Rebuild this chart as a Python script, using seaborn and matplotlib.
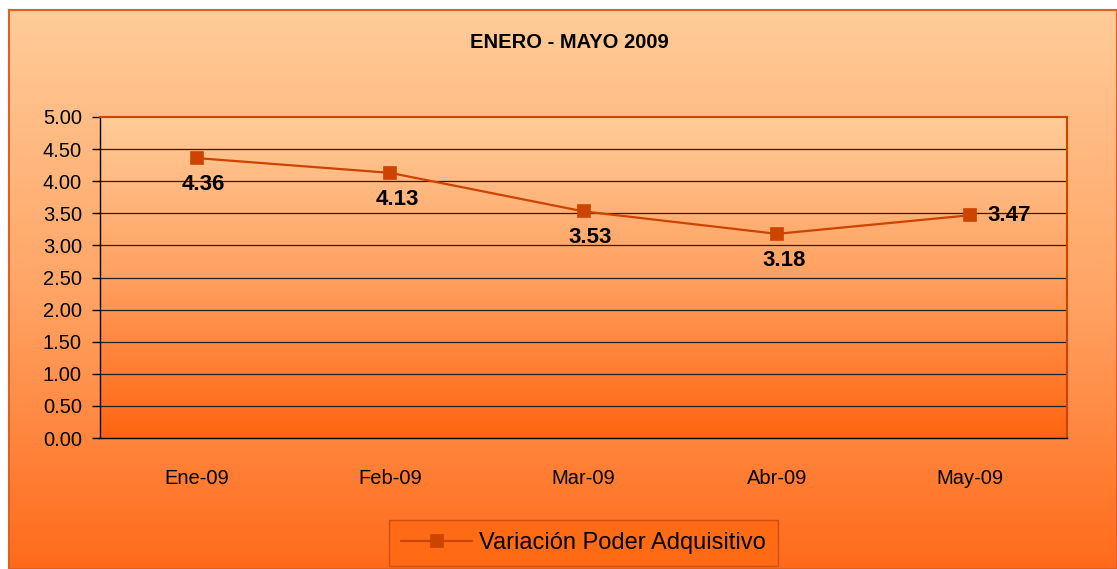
import numpy as np
import pandas as pd
import seaborn as sns
import matplotlib
matplotlib.use("Agg")
import matplotlib.pyplot as plt
from matplotlib.colors import LinearSegmentedColormap

meses = ["Ene-09", "Feb-09", "Mar-09", "Abr-09", "May-09"]
valores = [4.36, 4.13, 3.53, 3.18, 3.47]
serie = "Variación Poder Adquisitivo"
titulo = "ENERO - MAYO 2009"

sns.set_theme(style="white")
plt.rcParams["font.family"] = ["Liberation Sans", "DejaVu Sans"]
plt.rcParams["text.color"] = "black"
plt.rcParams["xtick.color"] = "black"
plt.rcParams["ytick.color"] = "black"

LINE = "#cc4400"
W, H = 1117, 569
fig = plt.figure(figsize=(W / 100, H / 100), dpi=100)
fig.patch.set_facecolor("white")

# chart area with vertical gradient
bg = fig.add_axes([9 / W, 0, (W - 9) / W, (H - 10) / H])
cm_bg = LinearSegmentedColormap.from_list("bg", ["#ffcc99", "#ffa566", "#ff6a1a"])
bg.imshow(np.linspace(0, 1, 256).reshape(-1, 1), aspect="auto", cmap=cm_bg,
          extent=[0, 1, 0, 1], origin="upper")
bg.set_xticks([])
bg.set_yticks([])
for s in bg.spines.values():
    s.set_color("#e06020")
    s.set_linewidth(1.5)
bg.set_zorder(0)

# plot area
l, r, t, b = 100, 1067, 117, 438
ax = fig.add_axes([l / W, 1 - b / H, (r - l) / W, (b - t) / H])
ax.set_zorder(1)
cm_pa = LinearSegmentedColormap.from_list("pa", ["#ffcc99", "#ffa060", "#ff6410"])
ax.imshow(np.linspace(0, 1, 256).reshape(-1, 1), aspect="auto", cmap=cm_pa,
          extent=[-0.5, 4.5, 0, 5], origin="upper", zorder=0)

df = pd.DataFrame({"mes": meses, "valor": valores})
sns.pointplot(data=df, x="mes", y="valor", ax=ax, color=LINE, markers="s",
              errorbar=None, linewidth=1.6, markersize=9, label=serie)

ax.set_xlim(-0.5, 4.5)
ax.set_ylim(0, 5)
ax.set_yticks(np.arange(0, 5.01, 0.5))
ax.set_yticklabels([f"{v:.2f}" for v in np.arange(0, 5.01, 0.5)], fontsize=14.5)
ax.set_xticks(range(len(meses)))
ax.set_xticklabels(meses, fontsize=14.5)
ax.tick_params(axis="x", length=0, pad=22)
ax.set_xticks(np.arange(-0.5, 4.6, 1), minor=True)
ax.tick_params(axis="x", which="minor", length=6, width=1, color="black", direction="out")
ax.tick_params(axis="y", length=6, width=1, color="black", direction="out", pad=7, left=True)
ax.set_xlabel("")
ax.set_ylabel("")
for y in np.arange(0.5, 4.6, 0.5):
    ax.axhline(y, color="#222222", lw=0.9, zorder=1)
for s in ("left", "bottom"):
    ax.spines[s].set_color("black")
    ax.spines[s].set_linewidth(1)
for s in ("top", "right"):
    ax.spines[s].set_color(LINE)
    ax.spines[s].set_linewidth(1.5)

for i, v in enumerate(valores):
    if i == len(valores) - 1:
        ax.annotate(f"{v:.2f}", (i, v), xytext=(12, 0), textcoords="offset points",
                    ha="left", va="center", fontsize=16, fontweight="bold", zorder=5)
    else:
        ax.annotate(f"{v:.2f}", (i, v), xytext=(5, -19), textcoords="offset points",
                    ha="center", va="center", fontsize=16, fontweight="bold", zorder=5)

fig.text(569 / W, 1 - 43 / H, titulo, ha="center", va="center", fontsize=14.5, fontweight="bold")

leg = ax.legend(loc="center", bbox_to_anchor=(0.5, (b - 543) / (b - t)), frameon=True,
                fontsize=17, handlelength=3.0, borderpad=0.5, fancybox=False,
                handletextpad=0.3)
leg.get_frame().set_facecolor("#ff6a14")
leg.get_frame().set_edgecolor("#d05010")
leg.get_frame().set_alpha(1)

fig.savefig("out.png", dpi=100)
